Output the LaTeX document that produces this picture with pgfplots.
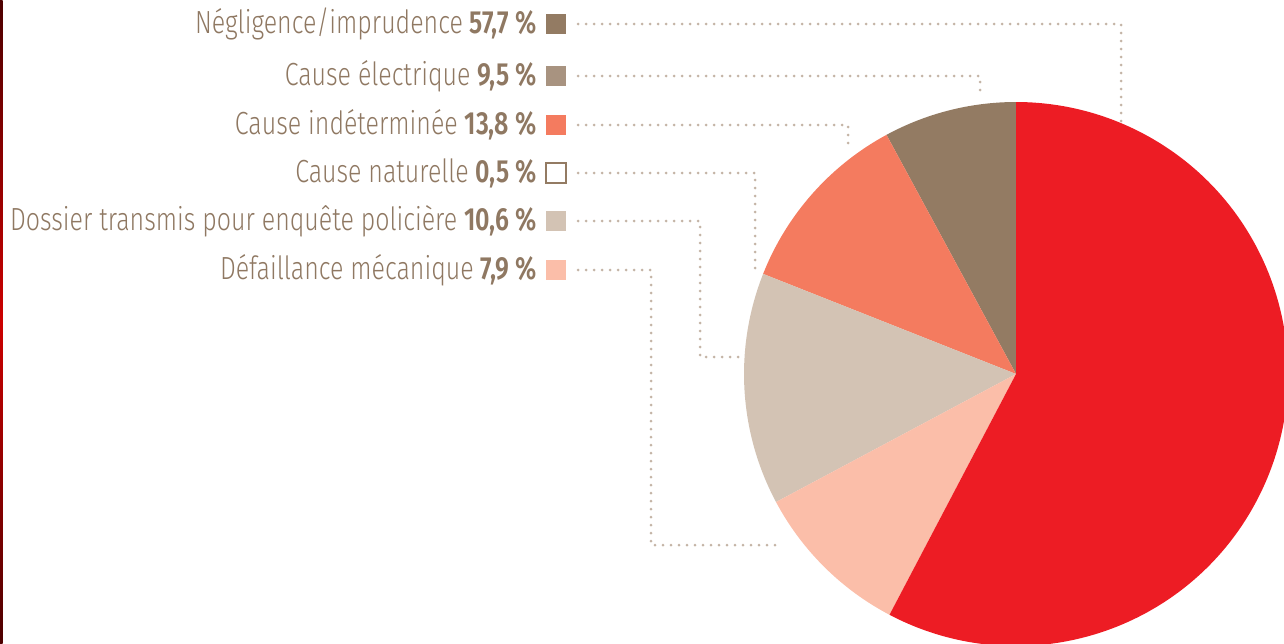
\documentclass[border=0pt]{standalone}
\usepackage{pgfplots}
\pgfplotsset{compat=1.18}
\usepackage{fontspec}
\setmainfont{Fira Sans Light}[FakeStretch=0.78,BoldFont={Fira Sans SemiBold},BoldFeatures={FakeStretch=0.78}]
\definecolor{cBrown}{HTML}{937B63}
\definecolor{cBrownL}{HTML}{A89380}
\definecolor{cOrange}{HTML}{F47B5F}
\definecolor{cBeige}{HTML}{D3C3B4}
\definecolor{cPink}{HTML}{FBBEA9}
\definecolor{cRed}{HTML}{ED1C24}
\definecolor{cDot}{HTML}{C4B4A6}
\definecolor{cText}{HTML}{8F7862}
% slice values (counter-clockwise from top)
\def\vA{7.9}  % brown
\def\vB{10.6} % orange
\def\vC{0.5}  % naturelle (merged visually)
\def\vD{13.8} % beige
\def\vE{9.5}  % pink
\def\vF{57.7} % red
\pgfmathsetmacro\aA{90}
\pgfmathsetmacro\aB{\aA+3.6*\vA}
\pgfmathsetmacro\aC{\aB+3.6*\vB}
\pgfmathsetmacro\aD{\aC+3.6*\vC}
\pgfmathsetmacro\aE{\aD+3.6*\vD}
\pgfmathsetmacro\aF{\aE+3.6*\vE}
\pgfmathsetmacro\aG{\aF+3.6*\vF}
\begin{document}
\begin{tikzpicture}
\begin{axis}[
  scale only axis, width=642pt, height=321.5pt,
  xmin=0, xmax=1284, ymin=0, ymax=643, y dir=reverse,
  hide axis, clip=false,
]
\def\R{136pt}
\fill[cBrown]  (axis cs:1016,374) -- ++(\aA:\R) arc[start angle=\aA, end angle=\aB, radius=\R] -- cycle;
\fill[cOrange] (axis cs:1016,374) -- ++(\aB:\R) arc[start angle=\aB, end angle=\aD, radius=\R] -- cycle;
\fill[cBeige]  (axis cs:1016,374) -- ++(\aD:\R) arc[start angle=\aD, end angle=\aE, radius=\R] -- cycle;
\fill[cPink]   (axis cs:1016,374) -- ++(\aE:\R) arc[start angle=\aE, end angle=\aF, radius=\R] -- cycle;
\fill[cRed]    (axis cs:1016,374) -- ++(\aF:\R) arc[start angle=\aF, end angle=\aG, radius=\R] -- cycle;
% leader lines
\begin{scope}[cDot, line width=1.5pt, line cap=round, dash pattern=on 0pt off 4pt]
\draw (axis cs:578,24) -- (axis cs:1121,24) -- (axis cs:1121,125);
\draw (axis cs:578,76) -- (axis cs:980,76) -- (axis cs:980,97);
\draw (axis cs:578,125) -- (axis cs:848,125) -- (axis cs:848,150);
\draw (axis cs:578,173) -- (axis cs:755,173) -- (axis cs:755,272);
\draw (axis cs:578,221) -- (axis cs:700,221) -- (axis cs:700,357) -- (axis cs:738,357);
\draw (axis cs:578,270) -- (axis cs:651,270) -- (axis cs:651,545) -- (axis cs:782,545);
\end{scope}
% legend squares
\fill[cBrown]  (axis cs:556,24)  +(-5pt,-5pt) rectangle +(5pt,5pt);
\fill[cBrownL] (axis cs:556,76)  +(-5pt,-5pt) rectangle +(5pt,5pt);
\fill[cOrange] (axis cs:556,125) +(-5pt,-5pt) rectangle +(5pt,5pt);
\draw[cBrown, line width=1.4pt, fill=white] (axis cs:556,173) +(-5pt,-5pt) rectangle +(5pt,5pt);
\fill[cBeige]  (axis cs:556,221) +(-5pt,-5pt) rectangle +(5pt,5pt);
\fill[cPink]   (axis cs:556,270) +(-5pt,-5pt) rectangle +(5pt,5pt);
% labels
\begin{scope}[every node/.style={anchor=east, text=cText, font=\fontsize{16}{19}\selectfont, inner sep=0pt}]
\node at (axis cs:537,24)  {Négligence/imprudence \textbf{57,7~\%}};
\node at (axis cs:537,76)  {Cause électrique \textbf{9,5~\%}};
\node at (axis cs:537,125) {Cause indéterminée \textbf{13,8~\%}};
\node at (axis cs:537,173) {Cause naturelle \textbf{0,5~\%}};
\node at (axis cs:537,221) {Dossier transmis pour enquête policière \textbf{10,6~\%}};
\node at (axis cs:537,270) {Défaillance mécanique \textbf{7,9~\%}};
\end{scope}
\shade[top color=black!70!red, bottom color=black!70!red, middle color=red!80!black] (axis cs:0,0) rectangle (axis cs:2.5,643);
\end{axis}
\pgfresetboundingbox
\path[use as bounding box] (0,0) rectangle (642pt,321.5pt);
\end{tikzpicture}
\end{document}
